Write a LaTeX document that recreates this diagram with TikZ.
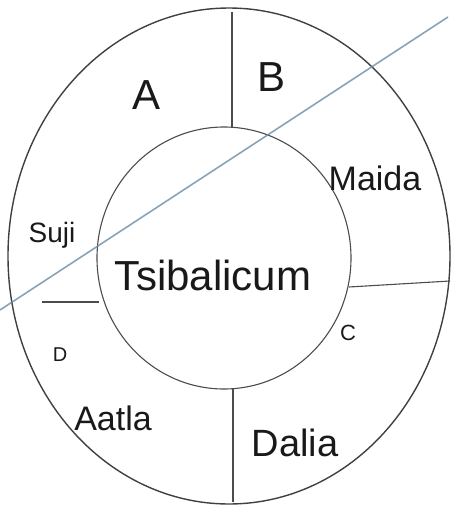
\documentclass[tikz,border=0pt]{standalone}
\usepackage{fontspec}
\setmainfont{Liberation Sans}
\definecolor{penblue}{RGB}{105,140,168}
\begin{document}
\begin{tikzpicture}[x=1pt,y=-1pt,
  ring/.style={draw=black!75,line width=1.4pt},
  divider/.style={draw=black!70,line width=1.1pt},
  lbl/.style={inner sep=0pt,text=black!90},
  pen/.style={draw=penblue,line width=1.6pt,opacity=0.8}]
\useasboundingbox (0,0) rectangle (454,512);
% rings
\draw[ring] (229,256) ellipse [x radius=221,y radius=248];
\draw[divider] (224,258) ellipse [x radius=127,y radius=131];
% dividers
\coordinate (t1) at (232,12);  \coordinate (t2) at (232,127);
\coordinate (b1) at (233,389); \coordinate (b2) at (233,502);
\coordinate (l1) at (42,302);  \coordinate (l2) at (99,302);
\coordinate (r1) at (349,287); \coordinate (r2) at (450,281);
\draw[divider] (t1) -- (t2);
\draw[divider] (b1) -- (b2);
\draw[divider] (l1) -- (l2);
\draw[divider] (r1) -- (r2);
% stray pen stroke
\coordinate (p1) at (0,310); \coordinate (p2) at (448,17);
\draw[pen] (p1) -- (p2);
% labels
\node[lbl,font=\fontsize{42}{42}\selectfont] (A) at (147,95) {A};
\node[lbl,font=\fontsize{42}{42}\selectfont] (B) at (272,77) {B};
\node[lbl,font=\fontsize{34}{34}\selectfont] (maida) at (375,178) {Maida};
\node[lbl,font=\fontsize{28}{28}\selectfont] (suji) at (52,235) {Suji};
\node[lbl,font=\fontsize{42}{42}\selectfont] (ts) at (213,275) {Tsibalicum};
\node[lbl,font=\fontsize{22}{22}\selectfont] (C) at (348,333) {C};
\node[lbl,font=\fontsize{20}{20}\selectfont] (D) at (60,355) {D};
\node[lbl,font=\fontsize{34}{34}\selectfont] (aatla) at (113,418) {Aatla};
\node[lbl,font=\fontsize{38}{38}\selectfont] (dalia) at (295,443) {Dalia};
\end{tikzpicture}
\end{document}
